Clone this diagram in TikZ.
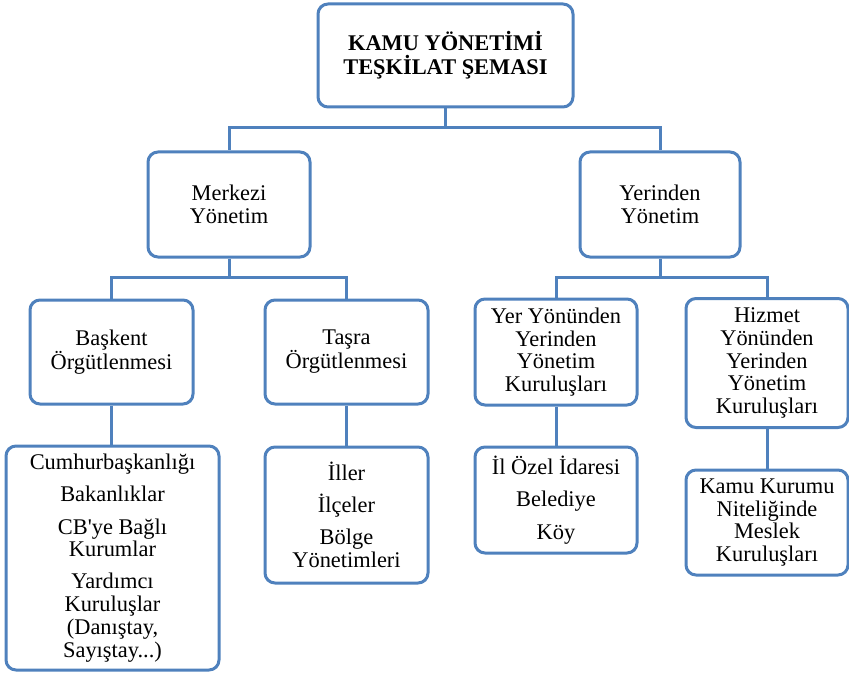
\documentclass[tikz,border=0pt]{standalone}
\usepackage{fontspec}
\setmainfont{Liberation Serif}
\definecolor{boxblue}{HTML}{4F81BD}
\begin{document}
\begin{tikzpicture}[x=1pt,y=-1pt,
  orgbox/.style={draw=boxblue, line width=3pt, rounded corners=10pt, fill=white,
    align=center, inner sep=0pt, text=black,
    font=\fontsize{22.4}{22.7}\selectfont},
  link/.style={draw=boxblue, line width=3pt}]
\useasboundingbox (0,0) rectangle (849,674);
% nodes
\node[orgbox, minimum width=255pt, minimum height=103pt,
  font=\fontsize{22.4}{24}\selectfont\bfseries] (top) at (445.5,55.5)
  {KAMU YÖNETİMİ\\TEŞKİLAT ŞEMASI};
\node[orgbox, minimum width=162pt, minimum height=105pt] (merk) at (229,204.5) {Merkezi\\Yönetim};
\node[orgbox, minimum width=160pt, minimum height=105pt] (yer) at (660,204.5) {Yerinden\\Yönetim};
\node[orgbox, minimum width=163pt, minimum height=104pt] (bask) at (111.5,352) {Başkent\\Örgütlenmesi};
\node[orgbox, minimum width=163pt, minimum height=104pt] (tasra) at (346.5,352) {Taşra\\Örgütlenmesi};
\node[orgbox, minimum width=162pt, minimum height=106pt] (yery) at (556,352) {Yer Yönünden\\Yerinden\\Yönetim\\Kuruluşları};
\node[orgbox, minimum width=162pt, minimum height=129pt] (hiz) at (767,363) {Hizmet\\Yönünden\\Yerinden\\Yönetim\\Kuruluşları};
\node[orgbox, minimum width=213pt, minimum height=224pt] (cumh) at (112.5,558)
  {Cumhurbaşkanlığı\\[9.5pt]Bakanlıklar\\[9.5pt]CB\textquotesingle ye Bağlı\\Kurumlar\\[9.5pt]Yardımcı\\Kuruluşlar\\(Danıştay,\\Sayıştay...)};
\node[orgbox, minimum width=163pt, minimum height=136pt] (iller) at (346.5,515)
  {İller\\[9.5pt]İlçeler\\[9.5pt]Bölge\\Yönetimleri};
\node[orgbox, minimum width=162pt, minimum height=106pt] (ilozel) at (556,500)
  {İl Özel İdaresi\\[9.5pt]Belediye\\[9.5pt]Köy};
\node[orgbox, minimum width=162pt, minimum height=105pt] (kamu) at (767,522.5)
  {Kamu Kurumu\\Niteliğinde\\Meslek\\Kuruluşları};
% connectors
\coordinate (j0) at (top.south |- 0,128);
\coordinate (j1) at (merk.south |- 0,277);
\coordinate (j2) at (yer.south |- 0,277);
\draw[link] (top.south) -- (j0);
\draw[link] (j0) -| (merk.north);
\draw[link] (j0) -| (yer.north);
\draw[link] (merk.south) -- (j1);
\draw[link] (j1) -| (bask.north);
\draw[link] (j1) -| (tasra.north);
\draw[link] (yer.south) -- (j2);
\draw[link] (j2) -| (yery.north);
\draw[link] (j2) -| (hiz.north);
\draw[link] (bask.south) -- (bask.south |- cumh.north);
\draw[link] (tasra.south) -- (iller.north);
\draw[link] (yery.south) -- (ilozel.north);
\draw[link] (hiz.south) -- (kamu.north);
\end{tikzpicture}
\end{document}
